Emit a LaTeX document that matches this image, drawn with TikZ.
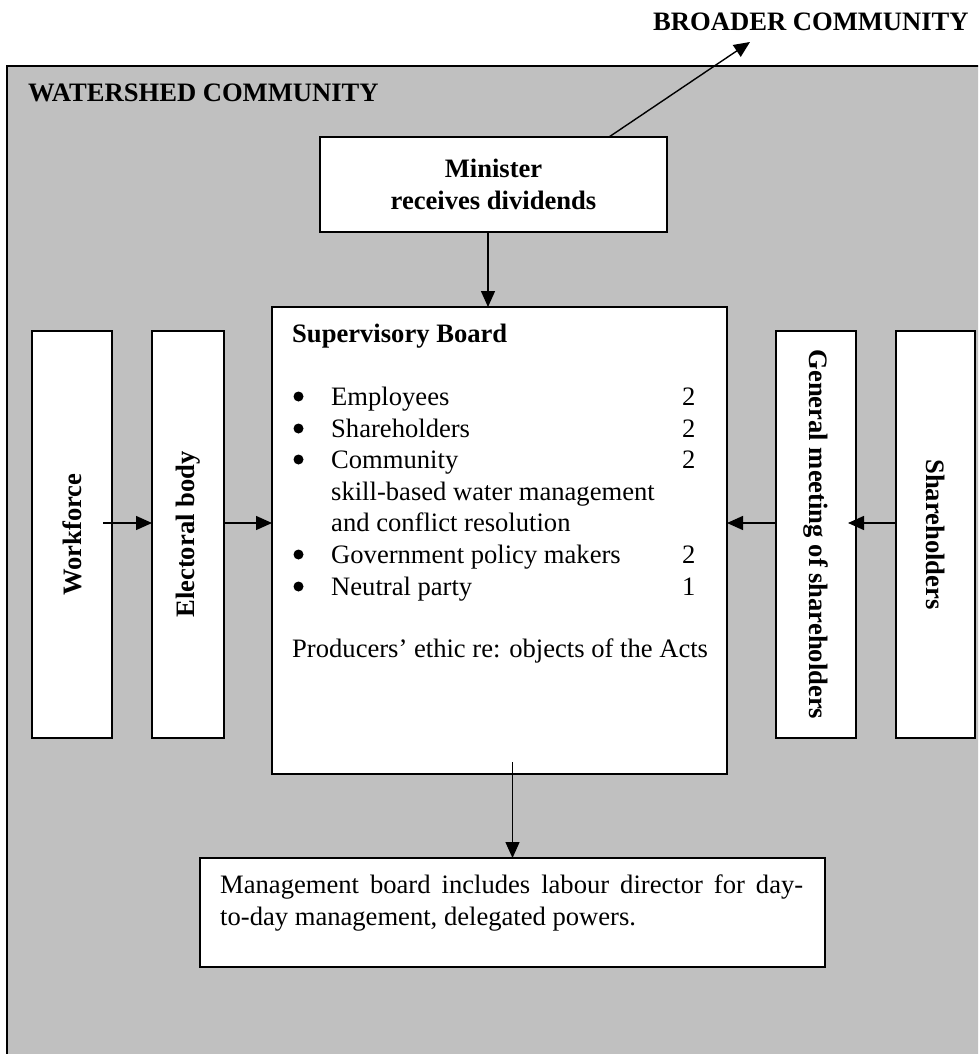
\documentclass[tikz,border=0pt]{standalone}
\usepackage{fontspec}
\setmainfont{Liberation Serif}
\usetikzlibrary{arrows.meta,calc}
\definecolor{bggray}{HTML}{C0C0C0}
\begin{document}
\begin{tikzpicture}[x=1pt,y=-1pt,
  every node/.style={font=\fontsize{26.6}{31.5}\selectfont},
  wbox/.style={draw=black,fill=white,line width=1.5pt,inner sep=0pt,outer sep=0pt},
  txt/.style={inner sep=0pt,anchor=base west},
  bul/.style={circle,fill=black,inner sep=0pt,minimum size=10pt},
  arr/.style={line width=1.4pt,-{Triangle[length=16pt,width=14pt]}}]
\useasboundingbox (0,0) rectangle (978,1054);
\clip (0,0) rectangle (978,1054);
\fill[white] (0,0) rectangle (978,1054);
% outer community
\draw[fill=bggray,line width=2pt] (7,66) rectangle (990,1070);
\node[txt,font=\fontsize{26.6}{31.5}\selectfont\bfseries] (watershed) at (28,102) {WATERSHED COMMUNITY};
\node[txt,font=\fontsize{26.6}{31.5}\selectfont\bfseries] (broader) at (653,31) {BROADER COMMUNITY};
\coordinate (bctip) at (750,42);
% boxes
\node[wbox,minimum width=347pt,minimum height=95pt,align=center,font=\fontsize{26.6}{31.5}\selectfont\bfseries] (mini) at (493.5,184.5) {Minister\\receives dividends};
\node[wbox,minimum width=455pt,minimum height=467pt] (sup) at (499.5,540.5) {};
\node[wbox,minimum width=625pt,minimum height=109pt] (mgmt) at (512.5,912.5) {};
\node[wbox,minimum width=80pt,minimum height=407pt] (wf) at (72,534.5) {};
\node[wbox,minimum width=72pt,minimum height=407pt] (eb) at (188,534.5) {};
\node[wbox,minimum width=80pt,minimum height=407pt] (gm) at (816,534.5) {};
\node[wbox,minimum width=79pt,minimum height=407pt] (sh) at (935.5,534.5) {};
% rotated labels
\node[rotate=90,inner sep=0pt,font=\fontsize{26.6}{31.5}\selectfont\bfseries] (wftxt) at (wf.center) {Workforce};
\node[rotate=90,inner sep=0pt,font=\fontsize{26.6}{31.5}\selectfont\bfseries] (ebtxt) at (eb.center) {Electoral body};
\node[rotate=-90,inner sep=0pt,font=\fontsize{26.6}{31.5}\selectfont\bfseries] (gmtxt) at (gm.center) {General meeting of shareholders};
\node[rotate=-90,inner sep=0pt,font=\fontsize{26.6}{31.5}\selectfont\bfseries] (shtxt) at (sh.center) {Shareholders};
% supervisory board content
\node[txt,font=\fontsize{26.6}{31.5}\selectfont\bfseries] (sbh) at (292,342) {Supervisory Board};
\node[bul] (b1) at (298.5,396.5) {};
\node[bul] (b2) at (298.5,428.5) {};
\node[bul] (b3) at (298.5,459.5) {};
\node[bul] (b4) at (298.5,554.5) {};
\node[bul] (b5) at (298.5,586.5) {};
\node[txt] (i1) at (331,405) {Employees};
\node[txt] (i2) at (331,437) {Shareholders};
\node[txt] (i3) at (331,468) {Community};
\node[txt] (i3a) at (331,500) {skill-based water management};
\node[txt] (i3b) at (331,531) {and conflict resolution};
\node[txt] (i4) at (331,563) {Government policy makers};
\node[txt] (i5) at (331,595) {Neutral party};
\node[txt] (n1) at (682,405) {2};
\node[txt] (n2) at (682,437) {2};
\node[txt] (n3) at (682,468) {2};
\node[txt] (n4) at (682,563) {2};
\node[txt] (n5) at (682,595) {1};
\node[txt] (prod) at (292,657) {Producers’ ethic re: objects of the Acts};
% management text
\node[txt] (mt1) at (220,893) {\makebox[583pt][s]{Management board includes labour director for day-}};
\node[txt] (mt2) at (220,925) {to-day management, delegated powers.};
% connectors
\coordinate (ay) at (0,523);
\draw[arr] ($(mini.north east)+(-58,0)$) -- (bctip);
\draw[arr] ($(mini.south)+(-5.5,0)$) -- ($(sup.north)+(-11.5,0)$);
\draw[arr] ($(wf.east |- ay)+(-9,0)$) -- (eb.west |- ay);
\draw[arr] (eb.east |- ay) -- (sup.west |- ay);
\draw[arr] (sh.west |- ay) -- ($(gm.east |- ay)+(-8,0)$);
\draw[arr] (gm.west |- ay) -- (sup.east |- ay);
\draw[arr] ($(sup.south -| mgmt.north)+(0,-12)$) -- (mgmt.north);
\end{tikzpicture}
\end{document}
